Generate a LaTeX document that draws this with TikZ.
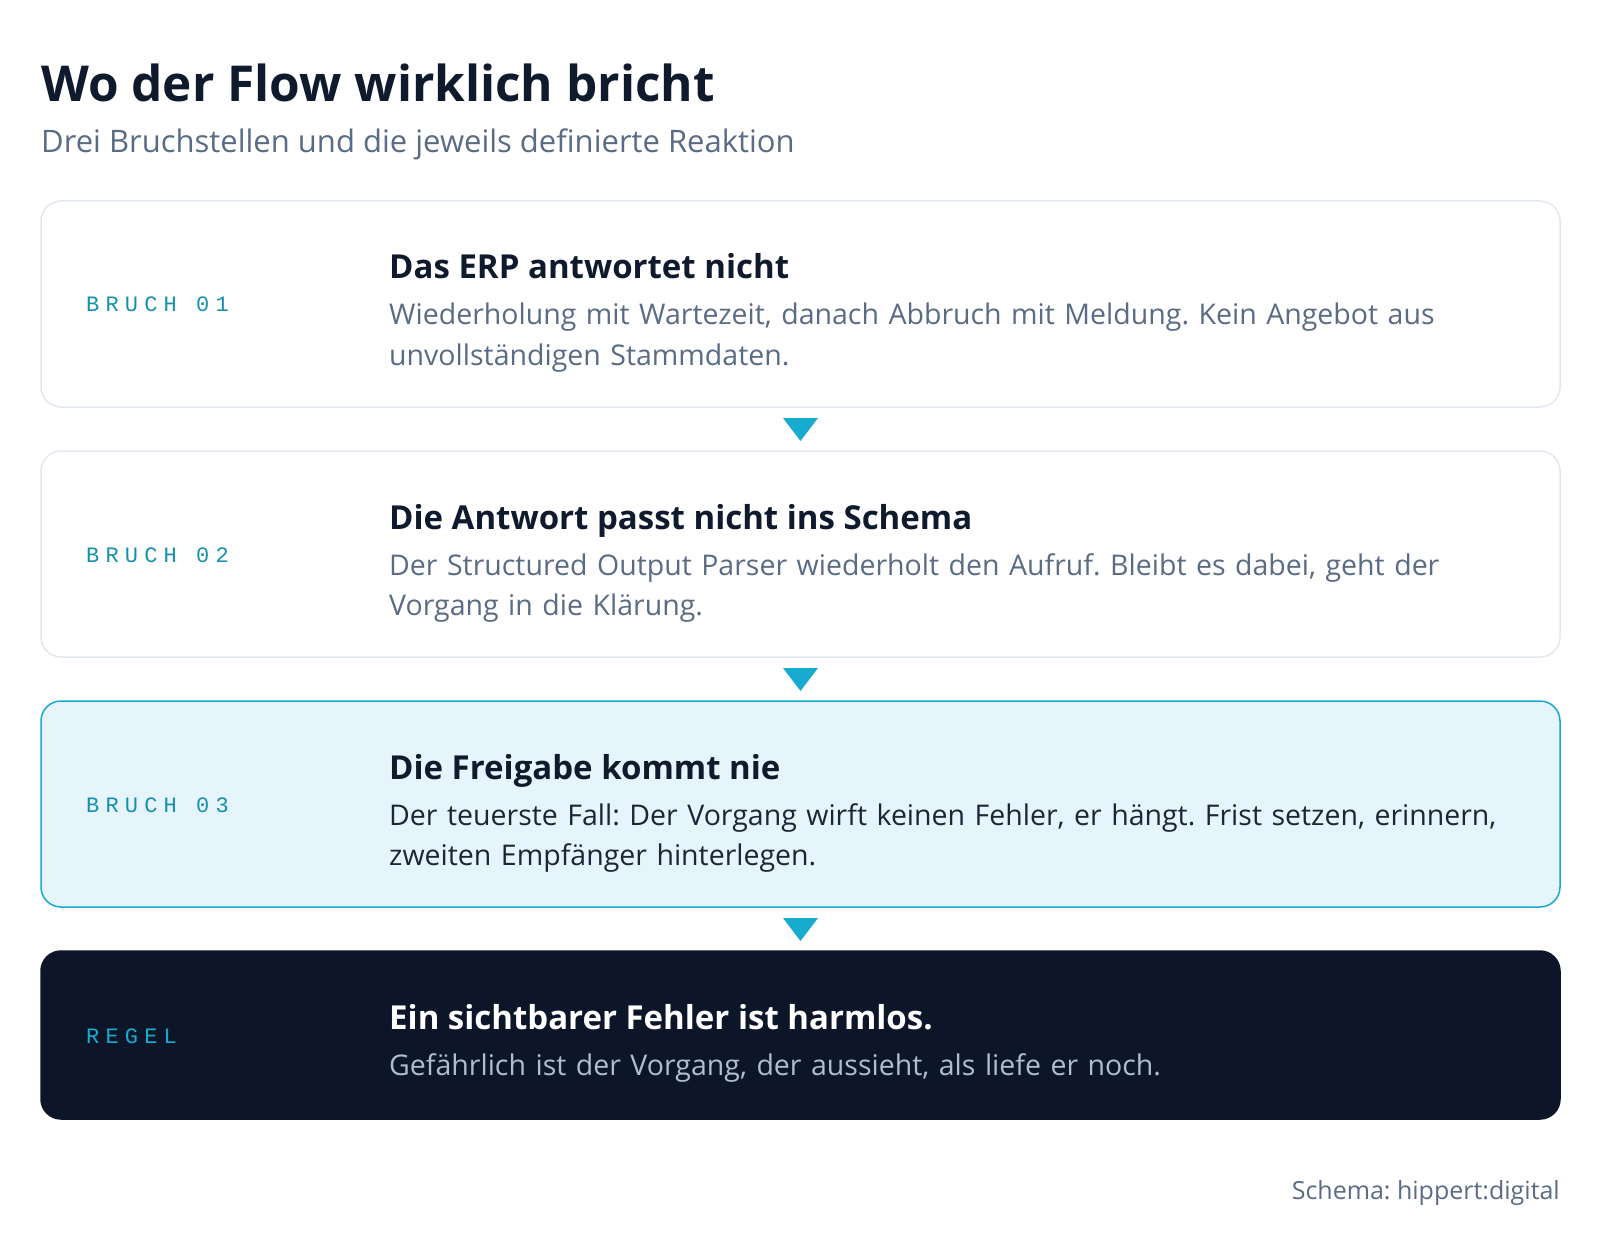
\documentclass[tikz,border=0pt]{standalone}
\usepackage{fontspec}
\setmainfont{Open Sans}
\newfontfamily\tagmono[LetterSpace=28]{Liberation Mono}
\usepackage{tikz}
\usetikzlibrary{positioning, calc}
\frenchspacing

\definecolor{ink}{HTML}{0F1A2C}
\definecolor{slate}{HTML}{5A6B84}
\definecolor{rim}{HTML}{E2E8F0}
\definecolor{tagteal}{HTML}{1591AE}
\definecolor{accent}{HTML}{16ABCF}
\definecolor{icefill}{HTML}{E6F5FB}
\definecolor{navy}{HTML}{0C1628}
\definecolor{mist}{HTML}{B0BDCC}
\definecolor{deep}{HTML}{1B2639}

\begin{document}
\begin{tikzpicture}[
    x=1pt, y=1pt,
    node distance=44pt,
    card/.style={rectangle, rounded corners=20pt, draw=rim, line width=1.5pt, fill=white, minimum width=1519pt, minimum height=206pt, inner sep=0pt, outer sep=0pt},
    hot/.style={card, draw=accent, fill=icefill},
    rule/.style={card, draw=navy, fill=navy, minimum height=168pt},
    tag/.style={font=\tagmono\fontsize{22}{26}\selectfont, text=tagteal, inner sep=0pt, anchor=base west},
    head/.style={font=\fontsize{33}{38}\selectfont\bfseries, text=ink, inner sep=0pt, anchor=base west},
    body/.style={font=\fontsize{28.5}{40}\selectfont, text=slate, inner sep=0pt, anchor=base west, align=left, text width=1200pt},
    drop/.style={fill=accent},
    title/.style={font=\fontsize{49.5}{56}\selectfont\bfseries, text=ink, inner sep=0pt, anchor=base west},
    subtitle/.style={font=\fontsize{31}{36}\selectfont, text=slate, inner sep=0pt, anchor=base west},
    foot/.style={font=\fontsize{25}{30}\selectfont, text=slate, inner sep=0pt, anchor=base east}
]
\path[use as bounding box] (0,0) rectangle (1600,-1238);

% Title
\node[title] (title) at (41,-102) {Wo der Flow wirklich bricht};
\node[subtitle] (sub) at (41,-153) {Drei Bruchstellen und die jeweils definierte Reaktion};

% Bruch 01
\node[card, anchor=north west] (b1) at (41,-201) {};
\node[tag] (t1) at ($(b1.west)+(45,-8)$) {BRUCH 01};
\node[head] (h1) at ($(b1.north west)+(348,-78)$) {Das ERP antwortet nicht};
\node[body] (p1) at ($(b1.north west)+(348,-124)$) {Wiederholung mit Wartezeit, danach Abbruch mit Meldung. Kein Angebot aus\\unvollständigen Stammdaten.};

% Bruch 02
\node[card, below=of b1] (b2) {};
\node[tag] (t2) at ($(b2.west)+(45,-8)$) {BRUCH 02};
\node[head] (h2) at ($(b2.north west)+(348,-78)$) {Die Antwort passt nicht ins Schema};
\node[body] (p2) at ($(b2.north west)+(348,-124)$) {Der Structured Output Parser wiederholt den Aufruf. Bleibt es dabei, geht der\\Vorgang in die Klärung.};

% Bruch 03
\node[hot, below=of b2] (b3) {};
\node[tag] (t3) at ($(b3.west)+(45,-8)$) {BRUCH 03};
\node[head] (h3) at ($(b3.north west)+(348,-78)$) {Die Freigabe kommt nie};
\node[body, text=deep] (p3) at ($(b3.north west)+(348,-124)$) {Der teuerste Fall: Der Vorgang wirft keinen Fehler, er hängt. Frist setzen, erinnern,\\zweiten Empfänger hinterlegen.};

% Regel
\node[rule, below=of b3] (b4) {};
\node[tag, text=accent] (t4) at ($(b4.west)+(45,-8)$) {REGEL};
\node[head, text=white] (h4) at ($(b4.north west)+(348,-78)$) {Ein sichtbarer Fehler ist harmlos.};
\node[body, text=mist] (p4) at ($(b4.north west)+(348,-124)$) {Gefährlich ist der Vorgang, der aussieht, als liefe er noch.};

% Triangles
\fill[drop] ($(b1.south)+(-17.5,-11)$) -- ($(b1.south)+(17.5,-11)$) -- ($(b1.south)+(0,-34)$) -- cycle;
\fill[drop] ($(b2.south)+(-17.5,-11)$) -- ($(b2.south)+(17.5,-11)$) -- ($(b2.south)+(0,-34)$) -- cycle;
\fill[drop] ($(b3.south)+(-17.5,-11)$) -- ($(b3.south)+(17.5,-11)$) -- ($(b3.south)+(0,-34)$) -- cycle;

% Source
\node[foot] (src) at ($(b4.south east)+(0,-80)$) {Schema: hippert:digital};

\end{tikzpicture}
\end{document}
